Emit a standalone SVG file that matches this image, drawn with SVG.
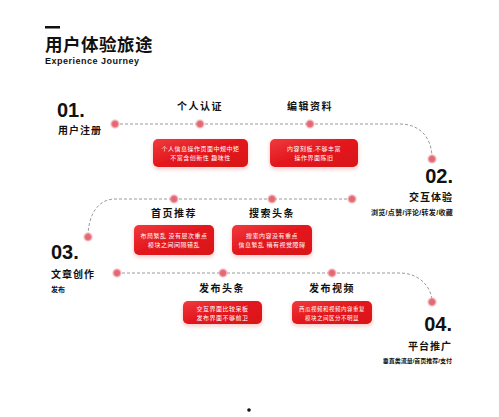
<svg xmlns="http://www.w3.org/2000/svg" width="499" height="417" viewBox="0 0 499 417">
<defs>
<linearGradient id="rg" x1="0" y1="0" x2="1" y2="1">
<stop offset="0" stop-color="#ef3a3e"/>
<stop offset="0.5" stop-color="#e3161c"/>
<stop offset="1" stop-color="#d91218"/>
</linearGradient>
<radialGradient id="dg">
<stop offset="0" stop-color="#e06670"/>
<stop offset="0.55" stop-color="#e56e78"/>
<stop offset="1" stop-color="#f4c0c4" stop-opacity="0.3"/>
</radialGradient>
<filter id="sh" x="-20%" y="-30%" width="140%" height="170%">
<feDropShadow dx="0" dy="2" stdDeviation="2" flood-color="#e0161d" flood-opacity="0.25"/>
</filter>
</defs>
<style>
text{font-family:"Liberation Sans","Noto Sans CJK SC",sans-serif;fill:#111}
.h{font-weight:bold;font-size:10px;letter-spacing:1.5px}
.num{font-weight:bold;font-size:20px}
.st{font-weight:bold;font-size:10px;letter-spacing:1px}
.sm{font-weight:bold;font-size:7px}
.bt{fill:#fff;font-size:6px;text-anchor:middle;letter-spacing:0.5px}
.box{fill:url(#rg);filter:url(#sh)}
.dot{fill:url(#dg)}
.ln{fill:none;stroke:#9a9a9a;stroke-width:1;stroke-dasharray:3 2}
</style>
<rect width="499" height="417" fill="#fff"/>
<g id="title">
<rect x="45" y="26" width="15" height="2.5" fill="#111"/>
<text x="45" y="51" style="font-size:17.5px;font-weight:bold;letter-spacing:0.5px">用户体验旅途</text>
<text x="45" y="64" style="font-size:9px;font-weight:bold;letter-spacing:0.5px">Experience Journey</text>
</g>
<g id="connectors">
<path class="ln" d="M115,124 H400 C420,124 432,138 432,158"/>
<path class="ln" d="M352,199 H115 C98,199 88,215 88,237"/>
<path class="ln" d="M117,273 H400 C418,273 432,286 432,302"/>
</g>
<g id="dots">
<circle class="dot" cx="115" cy="124" r="5"/>
<circle class="dot" cx="200" cy="124" r="5"/>
<circle class="dot" cx="310" cy="124" r="5"/>
<circle class="dot" cx="432" cy="159" r="5"/>
<circle class="dot" cx="352" cy="199" r="5"/>
<circle class="dot" cx="174" cy="199" r="5"/>
<circle class="dot" cx="272" cy="199" r="5"/>
<circle class="dot" cx="88" cy="237" r="5"/>
<circle class="dot" cx="117" cy="273" r="5"/>
<circle class="dot" cx="223" cy="273" r="5"/>
<circle class="dot" cx="332" cy="273" r="5"/>
<circle class="dot" cx="432" cy="302" r="5"/>
</g>
<g id="step01">
<text class="num" x="57" y="117">01.</text>
<text class="st" x="58" y="134">用户注册</text>
</g>
<g id="step02">
<text class="num" x="453" y="183" text-anchor="end">02.</text>
<text class="st" x="453" y="201" text-anchor="end">交互体验</text>
<text class="sm" x="453" y="215" text-anchor="end" style="letter-spacing:0.3px">浏览/点赞/评论/转发/收藏</text>
</g>
<g id="step03">
<text class="num" x="51" y="259">03.</text>
<text class="st" x="51" y="278">文章创作</text>
<text class="sm" x="51" y="292">发布</text>
</g>
<g id="step04">
<text class="num" x="452" y="331" text-anchor="end">04.</text>
<text class="st" x="452" y="350" text-anchor="end">平台推广</text>
<text class="sm" x="452" y="363" text-anchor="end" style="font-size:6px">垂直类流量/首页推荐/支付</text>
</g>
<g id="n1">
<text class="h" x="200" y="110" text-anchor="middle">个人认证</text>
<rect class="box" x="153" y="139" width="95" height="28" rx="5"/>
<text class="bt" x="200.5" y="151">个人信息操作页面中规中矩</text>
<text class="bt" x="200.5" y="160">不富含创新性 趣味性</text>
</g>
<g id="n2">
<text class="h" x="310" y="110" text-anchor="middle">编辑资料</text>
<rect class="box" x="270" y="139" width="88" height="28" rx="5"/>
<text class="bt" x="314" y="151">内容刻板,不够丰富</text>
<text class="bt" x="314" y="160">操作界面陈旧</text>
</g>
<g id="n3">
<text class="h" x="174" y="217" text-anchor="middle">首页推荐</text>
<rect class="box" x="134" y="225" width="80" height="30" rx="5"/>
<text class="bt" x="174" y="238">布局繁乱 没有层次重点</text>
<text class="bt" x="174" y="247">模块之间间隔错乱</text>
</g>
<g id="n4">
<text class="h" x="272" y="217" text-anchor="middle">搜索头条</text>
<rect class="box" x="232" y="225" width="80" height="30" rx="5"/>
<text class="bt" x="272" y="238">搜索内容没有重点</text>
<text class="bt" x="272" y="247">信息繁乱 稍有视觉障碍</text>
</g>
<g id="n5">
<text class="h" x="222" y="292" text-anchor="middle">发布头条</text>
<rect class="box" x="183" y="301" width="79" height="23" rx="5"/>
<text class="bt" x="222.5" y="311">交互界面比较呆板</text>
<text class="bt" x="222.5" y="320">发布界面不够前卫</text>
</g>
<g id="n6">
<text class="h" x="332" y="292" text-anchor="middle">发布视频</text>
<rect class="box" x="292" y="301" width="80" height="23" rx="5"/>
<text class="bt" x="332" y="311" style="font-size:5.5px">西瓜视频和视频内容重复</text>
<text class="bt" x="332" y="320" style="font-size:5.5px">模块之间区分不明显</text>
</g>
<circle cx="249" cy="410" r="1.8" fill="#111"/>
</svg>
